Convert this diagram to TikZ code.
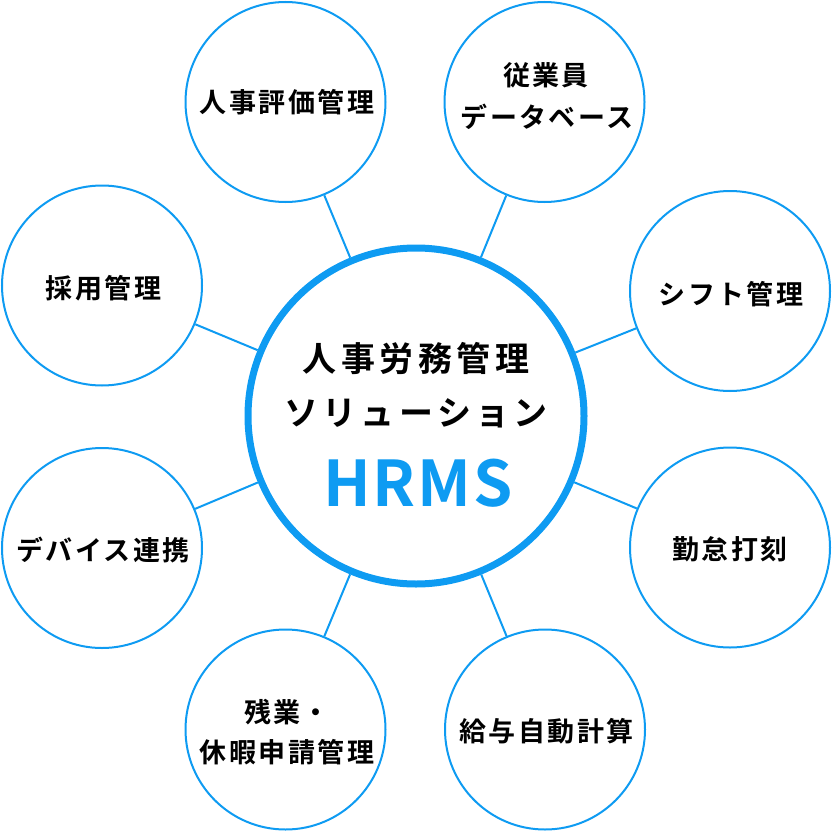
\documentclass[tikz,border=0pt]{standalone}
\usepackage{fontspec}
\newfontfamily\lblfont{Noto Sans CJK JP}[UprightFont=* Bold, LetterSpace=9]
\newfontfamily\ctrfont{Noto Sans CJK JP}[UprightFont=* Bold, LetterSpace=13]
\newfontfamily\hrmsfont{Noto Sans CJK JP}[UprightFont=* Bold, LetterSpace=3]
\definecolor{hrblue}{RGB}{14,155,242}
\begin{document}
\begin{tikzpicture}[x=1pt,y=-1pt,
  sub/.style={circle,draw=hrblue,line width=2pt,minimum size=200pt,inner sep=0pt},
  hub/.style={circle,draw=hrblue,line width=7pt,minimum size=336pt,inner sep=0pt},
  lbl/.style={font={\lblfont\fontsize{27}{32}\selectfont},text=black,inner sep=0pt},
  ctr/.style={font={\ctrfont\fontsize{34}{40}\selectfont},text=black,inner sep=0pt},
  hrms/.style={font={\hrmsfont\fontsize{63}{70}\selectfont},text=hrblue,inner sep=0pt},
  link/.style={draw=hrblue,line width=2pt}]
\useasboundingbox (0,0) rectangle (832,832);
% hub
\node[hub] (hub) at (416,416) {};
\node[ctr] (t1) at (416,358) {人事労務管理};
\node[ctr] (t2) at (416,413) {ソリューション};
\node[hrms] (t3) at (418,483) {HRMS};
% satellites
\node[sub] (a) at (285.5,102) {};
\node[sub] (b) at (544.5,102) {};
\node[sub] (c) at (730,291) {};
\node[sub] (d) at (730,547.5) {};
\node[sub] (e) at (545,729.5) {};
\node[sub] (f) at (285.5,729.5) {};
\node[sub] (g) at (102,548) {};
\node[sub] (h) at (102,285.5) {};
% labels
\node[lbl] (la) at (287,102.5) {人事評価管理};
\node[lbl] (lb1) at (546,75.5) {従業員};
\node[lbl] (lb2) at (547,116.5) {データベース};
\node[lbl] (lc) at (731,294) {シフト管理};
\node[lbl] (ld) at (730,549) {勤怠打刻};
\node[lbl] (le) at (546.5,730.8) {給与自動計算};
\node[lbl] (lf1) at (287,711.7) {残業・};
\node[lbl] (lf2) at (287,751.7) {休暇申請管理};
\node[lbl] (lg) at (103,550) {デバイス連携};
\node[lbl] (lh) at (103.5,288) {採用管理};
% connectors
\foreach \s in {a,b,c,d,e,f,g,h}
  \draw[link] (hub) -- (\s);
\end{tikzpicture}
\end{document}
